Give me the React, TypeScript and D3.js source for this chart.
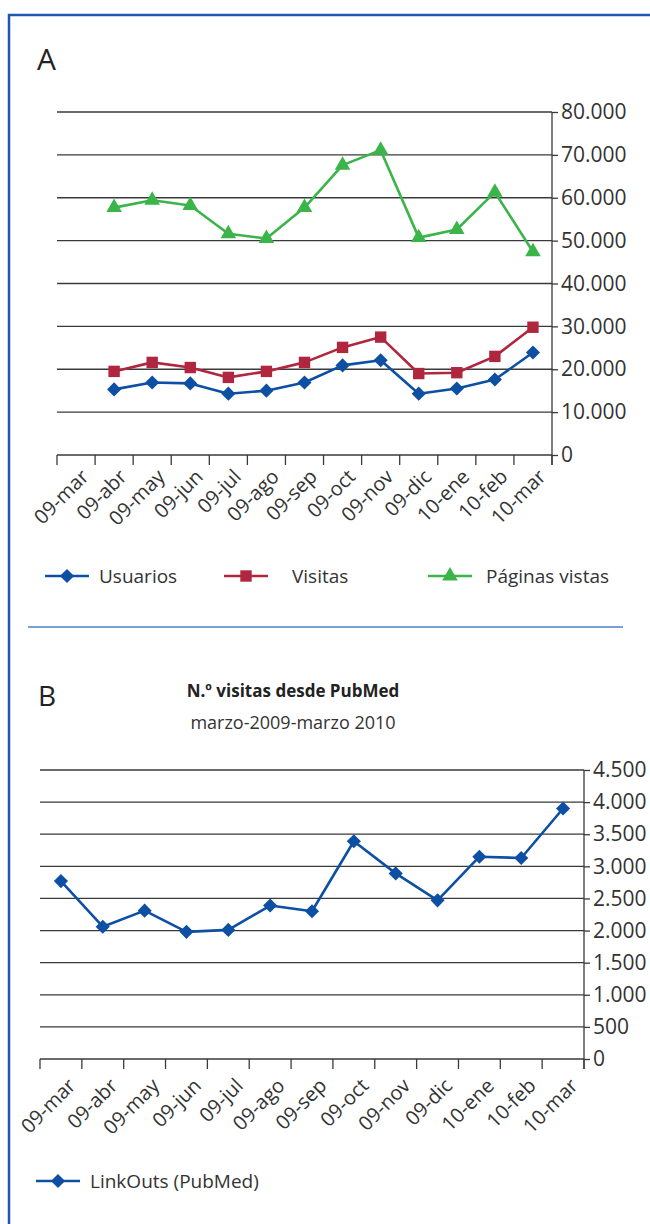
import React, { useEffect, useRef } from 'react';
import * as d3 from 'd3';

const monthsA = ['09-mar', '09-abr', '09-may', '09-jun', '09-jul', '09-ago', '09-sep', '09-oct', '09-nov', '09-dic', '10-ene', '10-feb', '10-mar'];
const usuarios = [null, 15300, 16900, 16700, 14300, 15000, 16900, 20900, 22100, 14300, 15500, 17600, 23900];
const visitas = [null, 19500, 21600, 20400, 18100, 19500, 21600, 25100, 27500, 19000, 19200, 23000, 29800];
const paginasVistas = [null, 57700, 59400, 58200, 51600, 50500, 57700, 67600, 71100, 50700, 52600, 61300, 47400];
const ticksA = [0, 10000, 20000, 30000, 40000, 50000, 60000, 70000, 80000];

const monthsB = ['09-mar', '09-abr', '09-may', '09-jun', '09-jul', '09-ago', '09-sep', '09-oct', '09-nov', '09-dic', '10-ene', '10-feb', '10-mar'];
const linkOuts = [2770, 2060, 2310, 1980, 2010, 2390, 2300, 3390, 2890, 2470, 3150, 3130, 3900];
const ticksB = [0, 500, 1000, 1500, 2000, 2500, 3000, 3500, 4000, 4500];

const BLUE = '#0d4fa3';
const RED = '#b0263f';
const GREEN = '#3bb44a';
const FONT = '"Open Sans", "Noto Sans", sans-serif';
const TEXT = '#333';

const fmt = d3.formatLocale({ decimal: ',', thousands: '.', grouping: [3], currency: ['', ''] }).format(',');

const App = () => {
  const ref = useRef<SVGSVGElement>(null);

  useEffect(() => {
    const svg = d3.select(ref.current);
    svg.selectAll('*').remove();

    // frame
    svg.append('path')
      .attr('d', 'M9,1224 V15 H650')
      .attr('fill', 'none')
      .attr('stroke', '#1d56b3')
      .attr('stroke-width', 2.5);

    svg.append('line')
      .attr('x1', 28).attr('x2', 623).attr('y1', 627).attr('y2', 627)
      .attr('stroke', '#4d7fca').attr('stroke-width', 1.5);

    const marker = (type: string) => {
      if (type === 'diamond') return d3.symbol(d3.symbolSquare, 100)() as string;
      if (type === 'square') return d3.symbol(d3.symbolSquare, 130)() as string;
      return d3.symbol(d3.symbolTriangle, 105)() as string;
    };
    const markerRot = (type: string) => (type === 'diamond' ? ' rotate(45)' : '');

    const drawChart = (opts: {
      months: string[];
      series: { values: (number | null)[]; color: string; type: string }[];
      ticks: number[];
      xRange: [number, number];
      yRange: [number, number];
      max: number;
      labelSize: number;
      xLabelSize: number;
      xLabelOff: [number, number];
    }) => {
      const x = d3.scaleBand().domain(opts.months).range(opts.xRange);
      const y = d3.scaleLinear().domain([0, opts.max]).range(opts.yRange);
      const g = svg.append('g');
      const [x0, x1] = opts.xRange;
      const y0 = opts.yRange[0];

      // gridlines
      g.append('g').selectAll('line')
        .data(opts.ticks.filter(t => t > 0))
        .join('line')
        .attr('x1', x0).attr('x2', x1)
        .attr('y1', d => y(d)).attr('y2', d => y(d))
        .attr('stroke', '#3a3a3a').attr('stroke-width', 1.3);

      // right axis
      const yAxis = g.append('g')
        .attr('transform', `translate(${x1},0)`)
        .call(d3.axisRight(y).tickValues(opts.ticks).tickFormat(d => fmt(d as number)).tickSize(6).tickPadding(3));
      yAxis.select('.domain').attr('d', `M0,${y(opts.max)}V${y0 + 10}`).attr('stroke', '#3a3a3a').attr('stroke-width', 1.3);
      yAxis.selectAll('.tick line').attr('stroke', '#3a3a3a').attr('stroke-width', 1.3);
      yAxis.selectAll('.tick text')
        .attr('font-family', FONT).attr('font-size', opts.labelSize).attr('fill', TEXT);

      // x axis with boundary ticks
      g.append('line')
        .attr('x1', x0).attr('x2', x1).attr('y1', y0).attr('y2', y0)
        .attr('stroke', '#3a3a3a').attr('stroke-width', 1.3);
      const bounds = opts.months.map(m => x(m) as number).concat([x1]);
      g.append('g').selectAll('line')
        .data(bounds)
        .join('line')
        .attr('x1', d => d).attr('x2', d => d)
        .attr('y1', y0).attr('y2', y0 + 10)
        .attr('stroke', '#3a3a3a').attr('stroke-width', 1.3);
      g.append('g').selectAll('text')
        .data(opts.months)
        .join('text')
        .attr('transform', d => `translate(${(x(d) as number) + x.bandwidth() / 2 + opts.xLabelOff[0]},${y0 + opts.xLabelOff[1]}) rotate(-45)`)
        .attr('text-anchor', 'end')
        .attr('dy', '0.35em')
        .attr('font-family', FONT).attr('font-size', opts.xLabelSize).attr('fill', TEXT)
        .text(d => d);

      // series
      opts.series.forEach(s => {
        const pts = s.values
          .map((v, i) => ({ v, m: opts.months[i] }))
          .filter(p => p.v !== null) as { v: number; m: string }[];
        const line = d3.line<{ v: number; m: string }>()
          .x(p => (x(p.m) as number) + x.bandwidth() / 2)
          .y(p => y(p.v));
        g.append('path')
          .datum(pts)
          .attr('d', line)
          .attr('fill', 'none')
          .attr('stroke', s.color)
          .attr('stroke-width', 2.6)
          .attr('stroke-linejoin', 'round');
        g.append('g').selectAll('path')
          .data(pts)
          .join('path')
          .attr('transform', p => `translate(${(x(p.m) as number) + x.bandwidth() / 2},${y(p.v)})${markerRot(s.type)}`)
          .attr('d', marker(s.type))
          .attr('fill', s.color);
      });
    };

    // Chart A
    svg.append('text').attr('x', 37).attr('y', 70)
      .attr('font-family', FONT).attr('font-size', 30).attr('fill', '#222').text('A');

    drawChart({
      months: monthsA,
      series: [
        { values: paginasVistas, color: GREEN, type: 'triangle' },
        { values: visitas, color: RED, type: 'square' },
        { values: usuarios, color: BLUE, type: 'diamond' },
      ],
      ticks: ticksA,
      xRange: [57, 552],
      yRange: [455, 112],
      max: 80000,
      labelSize: 21,
      xLabelSize: 20,
      xLabelOff: [9, 18],
    });

    // Legend A
    const drawLegend = (items: { label: string; color: string; type: string; x: number; tx: number }[], ly: number) => {
      items.forEach(it => {
        svg.append('line').attr('x1', it.x).attr('x2', it.x + 44).attr('y1', ly).attr('y2', ly)
          .attr('stroke', it.color).attr('stroke-width', 2.6);
        svg.append('path')
          .attr('transform', `translate(${it.x + 22},${ly})${markerRot(it.type)}`)
          .attr('d', marker(it.type)).attr('fill', it.color);
        svg.append('text').attr('x', it.tx).attr('y', ly).attr('dy', '0.35em')
          .attr('font-family', FONT).attr('font-size', 19).attr('fill', TEXT).text(it.label);
      });
    };
    drawLegend([
      { label: 'Usuarios', color: BLUE, type: 'diamond', x: 45, tx: 99 },
      { label: 'Visitas', color: RED, type: 'square', x: 224, tx: 292 },
      { label: 'Páginas vistas', color: GREEN, type: 'triangle', x: 428, tx: 486 },
    ], 576);

    // Chart B
    svg.append('text').attr('x', 38).attr('y', 706)
      .attr('font-family', FONT).attr('font-size', 28).attr('fill', '#222').text('B');
    svg.append('text').attr('x', 293).attr('y', 697).attr('text-anchor', 'middle')
      .attr('font-family', FONT).attr('font-size', 17).attr('font-weight', 'bold').attr('fill', '#222')
      .text('N.º visitas desde PubMed');
    svg.append('text').attr('x', 293).attr('y', 729).attr('text-anchor', 'middle')
      .attr('font-family', FONT).attr('font-size', 18).attr('fill', TEXT)
      .text('marzo-2009-marzo 2010');

    drawChart({
      months: monthsB,
      series: [{ values: linkOuts, color: BLUE, type: 'diamond' }],
      ticks: ticksB,
      xRange: [40, 584],
      yRange: [1059, 770],
      max: 4500,
      labelSize: 21,
      xLabelSize: 20,
      xLabelOff: [11, 23],
    });

    drawLegend([{ label: 'LinkOuts (PubMed)', color: BLUE, type: 'diamond', x: 36, tx: 90 }], 1181);
  }, []);

  return (
    <svg ref={ref} width={650} height={1224}
      style={{ position: 'absolute', left: 0, top: 0, display: 'block', background: '#fff' }} />
  );
};

export default App;
